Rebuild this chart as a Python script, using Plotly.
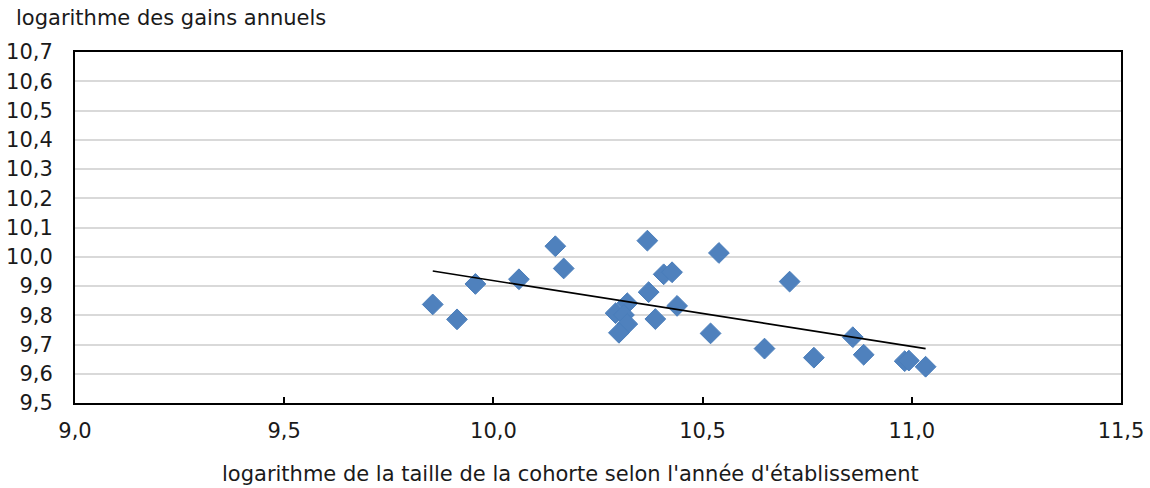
import plotly.graph_objects as go

# Data (log cohort size, log annual earnings)
x_vals = [9.855, 9.913, 9.957, 10.061, 10.148, 10.168, 10.368, 10.539, 10.708,
          10.407, 10.427, 10.371, 10.439, 10.387, 10.519, 10.648,
          10.320, 10.292, 10.312, 10.320, 10.300,
          10.766, 10.859, 10.885, 10.983, 10.993, 11.033]
y_vals = [9.837, 9.786, 9.907, 9.923, 10.036, 9.960, 10.055, 10.013, 9.915,
          9.940, 9.947, 9.879, 9.832, 9.787, 9.738, 9.686,
          9.841, 9.807, 9.801, 9.770, 9.740,
          9.655, 9.725, 9.665, 9.643, 9.645, 9.624]

trend_x = [9.855, 11.033]
trend_y = [9.951, 9.686]

x_ticks = [9.0, 9.5, 10.0, 10.5, 11.0, 11.5]
x_labels = ["9,0", "9,5", "10,0", "10,5", "11,0", "11,5"]
y_ticks = [9.5, 9.6, 9.7, 9.8, 9.9, 10.0, 10.1, 10.2, 10.3, 10.4, 10.5, 10.6, 10.7]
y_labels = ["9,5", "9,6", "9,7", "9,8", "9,9", "10,0", "10,1", "10,2", "10,3",
            "10,4", "10,5", "10,6", "10,7"]

y_title = "logarithme des gains annuels"
x_title = "logarithme de la taille de la cohorte selon l'année d'établissement"

FONT = "DejaVu Sans"
FS = 21

W, H = 1150, 488
ML, MR, MT, MB = 74.5, 29.4, 52, 85
PW = W - ML - MR

fig = go.Figure()
fig.add_trace(go.Scatter(
    x=x_vals, y=y_vals, mode="markers",
    marker=dict(symbol="diamond", size=16, color="#4F81BD",
                line=dict(color="#4A7EBB", width=1)),
    showlegend=False, hoverinfo="x+y"))
fig.add_trace(go.Scatter(
    x=trend_x, y=trend_y, mode="lines",
    line=dict(color="black", width=1.6),
    showlegend=False, hoverinfo="skip"))

fig.update_layout(
    width=W, height=H,
    margin=dict(l=ML, r=MR, t=MT, b=MB),
    paper_bgcolor="white", plot_bgcolor="white",
    font=dict(family=FONT, size=FS, color="#1a1a1a"),
    xaxis=dict(range=[9.0, 11.5], tickvals=x_ticks, ticktext=x_labels,
               showgrid=False, zeroline=False, automargin=False,
               showline=True, linecolor="black", linewidth=2, mirror=True,
               ticks="inside", ticklen=6, tickwidth=1.5, tickcolor="black",
               tickfont=dict(family=FONT, size=FS), ticklabelstandoff=8),
    yaxis=dict(range=[9.5, 10.7], tickvals=y_ticks, ticktext=y_labels,
               showgrid=True, gridcolor="#D9D9D9", gridwidth=1.5, zeroline=False,
               automargin=False,
               showline=True, linecolor="black", linewidth=2, mirror=True,
               ticks="", tickfont=dict(family=FONT, size=FS), ticklabelstandoff=16),
    annotations=[
        dict(text=y_title, xref="paper", yref="paper", x=-ML / PW, y=1.0,
             xanchor="left", yanchor="bottom", yshift=20, xshift=13, showarrow=False,
             font=dict(family=FONT, size=FS)),
        dict(text=x_title, xref="paper", yref="paper", x=(570.5 - ML) / PW, y=0,
             xanchor="center", yanchor="top", yshift=-57, showarrow=False,
             font=dict(family=FONT, size=FS)),
    ],
)

fig.write_html("out.html",
               config={"displayModeBar": False},
               post_script="document.body.style.margin='0';document.body.style.padding='0';")
